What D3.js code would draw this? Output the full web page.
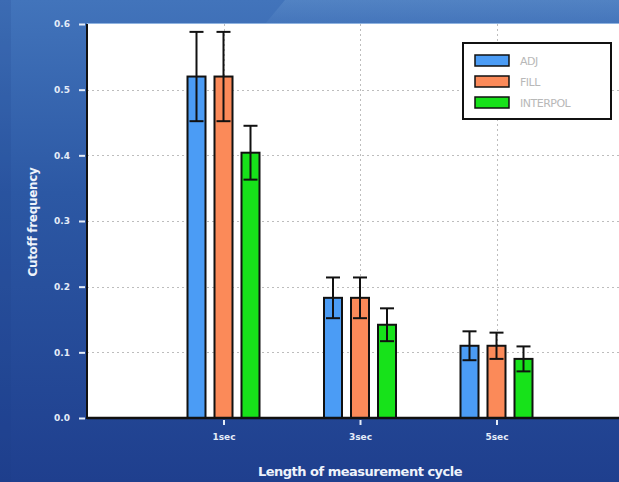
<!DOCTYPE html>
<html>
<head>
<meta charset="utf-8">
<script src="https://cdn.jsdelivr.net/npm/d3@7"></script>
<style>
  html, body { margin: 0; padding: 0; overflow: hidden; }
  svg { display: block; }
</style>
</head>
<body>
<svg id="chart" width="619" height="482"></svg>
<script>
// Cutoff frequency by measurement cycle length, three fill methods
const categories = ["1sec", "3sec", "5sec"];
const seriesNames = ["ADJ", "FILL", "INTERPOL"];
const adjValues = [0.52, 0.183, 0.110];
const fillValues = [0.52, 0.183, 0.110];
const interpolValues = [0.404, 0.142, 0.090];
const adjErrors = [0.068, 0.031, 0.022];
const fillErrors = [0.068, 0.031, 0.020];
const interpolErrors = [0.041, 0.025, 0.019];
const yTicks = [0.0, 0.1, 0.2, 0.3, 0.4, 0.5, 0.6];

const colors = ["#4b9cf5", "#fb8a59", "#17e21a"];
const series = [
  { name: seriesNames[0], values: adjValues, errors: adjErrors },
  { name: seriesNames[1], values: fillValues, errors: fillErrors },
  { name: seriesNames[2], values: interpolValues, errors: interpolErrors }
];

const W = 619, H = 482;
const svg = d3.select("#chart");
const defs = svg.append("defs");

// slide-style blue background
const bg = defs.append("linearGradient").attr("id", "bg").attr("x1", 0).attr("y1", 0).attr("x2", 0).attr("y2", 1);
bg.append("stop").attr("offset", "0%").attr("stop-color", "#4274bb");
bg.append("stop").attr("offset", "40%").attr("stop-color", "#2c58a4");
bg.append("stop").attr("offset", "100%").attr("stop-color", "#1f3f8e");
svg.append("rect").attr("width", W).attr("height", H).attr("fill", "url(#bg)");
const sheen = defs.append("linearGradient").attr("id", "sheen").attr("x1", 0).attr("y1", 0).attr("x2", 0).attr("y2", 1);
sheen.append("stop").attr("offset", "0%").attr("stop-color", "#6f9dd2").attr("stop-opacity", 0.35);
sheen.append("stop").attr("offset", "100%").attr("stop-color", "#6f9dd2").attr("stop-opacity", 0.1);
svg.append("path").attr("d", "M285,0 L619,0 L619,24 L265,24 Z").attr("fill", "url(#sheen)");
svg.append("rect").attr("x", 0).attr("y", 0).attr("width", 11).attr("height", H)
  .attr("fill", "#1d3c86").attr("opacity", 0.15);

const plot = { left: 87, top: 24, right: 633, bottom: 418 };

const x = d3.scaleLinear().domain([0, 4]).range([plot.left, plot.right]);
const y = d3.scaleLinear().domain([0, 0.6]).range([plot.bottom, plot.top]);
const offset = d3.scaleBand().domain(seriesNames).range([-36, 36]).paddingInner(1 / 3);

// white plotting area
svg.append("rect")
  .attr("x", plot.left).attr("y", plot.top)
  .attr("width", plot.right - plot.left).attr("height", plot.bottom - plot.top)
  .attr("fill", "#ffffff");
svg.append("line").attr("x1", plot.left).attr("x2", W).attr("y1", plot.top - 0.5).attr("y2", plot.top - 0.5)
  .attr("stroke", "#8fb3e0").attr("stroke-width", 1);

// dotted grid
const grid = svg.append("g").attr("stroke", "#bdbdbd").attr("stroke-width", 1).attr("stroke-dasharray", "2,3");
grid.selectAll("line.h").data(yTicks.filter(d => d > 0 && d < 0.6)).join("line")
  .attr("x1", plot.left).attr("x2", W)
  .attr("y1", d => Math.round(y(d)) + 0.5).attr("y2", d => Math.round(y(d)) + 0.5);
grid.selectAll("line.v").data(categories).join("line")
  .attr("x1", (d, i) => Math.round(x(i + 1)) + 0.5).attr("x2", (d, i) => Math.round(x(i + 1)) + 0.5)
  .attr("y1", plot.top).attr("y2", plot.bottom);

// bars
const bars = svg.append("g");
series.forEach((s, si) => {
  bars.selectAll(null).data(s.values).join("rect")
    .attr("x", (d, i) => x(i + 1) + offset(s.name))
    .attr("y", d => y(d))
    .attr("width", offset.bandwidth())
    .attr("height", d => y(0) - y(d))
    .attr("fill", colors[si])
    .attr("stroke", "#111")
    .attr("stroke-width", 2);
});

// error bars
const err = svg.append("g").attr("stroke", "#111").attr("stroke-width", 2);
series.forEach(s => {
  s.values.forEach((v, i) => {
    const cx = x(i + 1) + offset(s.name) + offset.bandwidth() / 2;
    const e = s.errors[i];
    err.append("line").attr("x1", cx).attr("x2", cx).attr("y1", y(v + e)).attr("y2", y(v - e));
    err.append("line").attr("x1", cx - 7).attr("x2", cx + 7).attr("y1", y(v + e)).attr("y2", y(v + e));
    err.append("line").attr("x1", cx - 7).attr("x2", cx + 7).attr("y1", y(v - e)).attr("y2", y(v - e));
  });
});

// axes
const tickColor = "#e4ecf8";
const yAxis = d3.axisLeft(y).tickValues(yTicks).tickFormat(d3.format(".1f")).tickSize(6).tickPadding(9);
const gy = svg.append("g").attr("transform", `translate(${plot.left - 2},0)`).call(yAxis);
const xAxis = d3.axisBottom(x).tickValues([1, 2, 3]).tickFormat((d) => categories[d - 1]).tickSize(5).tickPadding(9);
const gx = svg.append("g").attr("transform", `translate(0,${plot.bottom + 2})`).call(xAxis);
[gx, gy].forEach(g => {
  g.select(".domain").remove();
  g.selectAll(".tick line").attr("stroke", tickColor).attr("stroke-width", 2);
  g.selectAll(".tick text").attr("fill", tickColor)
    .style("font-family", "'DejaVu Sans', sans-serif").style("font-size", "9px").style("font-weight", "bold");
});

svg.append("line").attr("x1", plot.left).attr("x2", plot.left).attr("y1", plot.top).attr("y2", plot.bottom + 1)
  .attr("stroke", "#111").attr("stroke-width", 2);
svg.append("line").attr("x1", plot.left).attr("x2", W).attr("y1", plot.bottom).attr("y2", plot.bottom)
  .attr("stroke", "#111").attr("stroke-width", 2.5);

// axis titles
svg.append("text").attr("x", 360).attr("y", 476).attr("text-anchor", "middle")
  .attr("fill", "#eef3fb").style("font-family", "'DejaVu Sans', sans-serif")
  .style("font-size", "13px").style("font-weight", "bold").style("letter-spacing", "-0.5px")
  .text("Length of measurement cycle");
svg.append("text").attr("transform", `translate(37,222) rotate(-90)`).attr("text-anchor", "middle")
  .attr("fill", "#eef3fb").style("font-family", "'DejaVu Sans', sans-serif")
  .style("font-size", "12px").style("font-weight", "bold").style("letter-spacing", "-0.3px")
  .text("Cutoff frequency");

// legend
const legend = svg.append("g").attr("transform", "translate(463,43)");
legend.append("rect").attr("width", 148).attr("height", 76)
  .attr("fill", "#ffffff").attr("stroke", "#111").attr("stroke-width", 2);
seriesNames.forEach((name, i) => {
  const row = legend.append("g").attr("transform", `translate(12,${12 + i * 21})`);
  row.append("rect").attr("width", 34).attr("height", 11)
    .attr("fill", colors[i]).attr("stroke", "#111").attr("stroke-width", 1.5);
  row.append("text").attr("x", 45).attr("y", 10).attr("fill", "#b8b8b8")
    .style("font-family", "'DejaVu Sans', sans-serif").style("font-size", "11px")
    .style("letter-spacing", "-0.5px").text(name);
});
</script>
</body>
</html>
